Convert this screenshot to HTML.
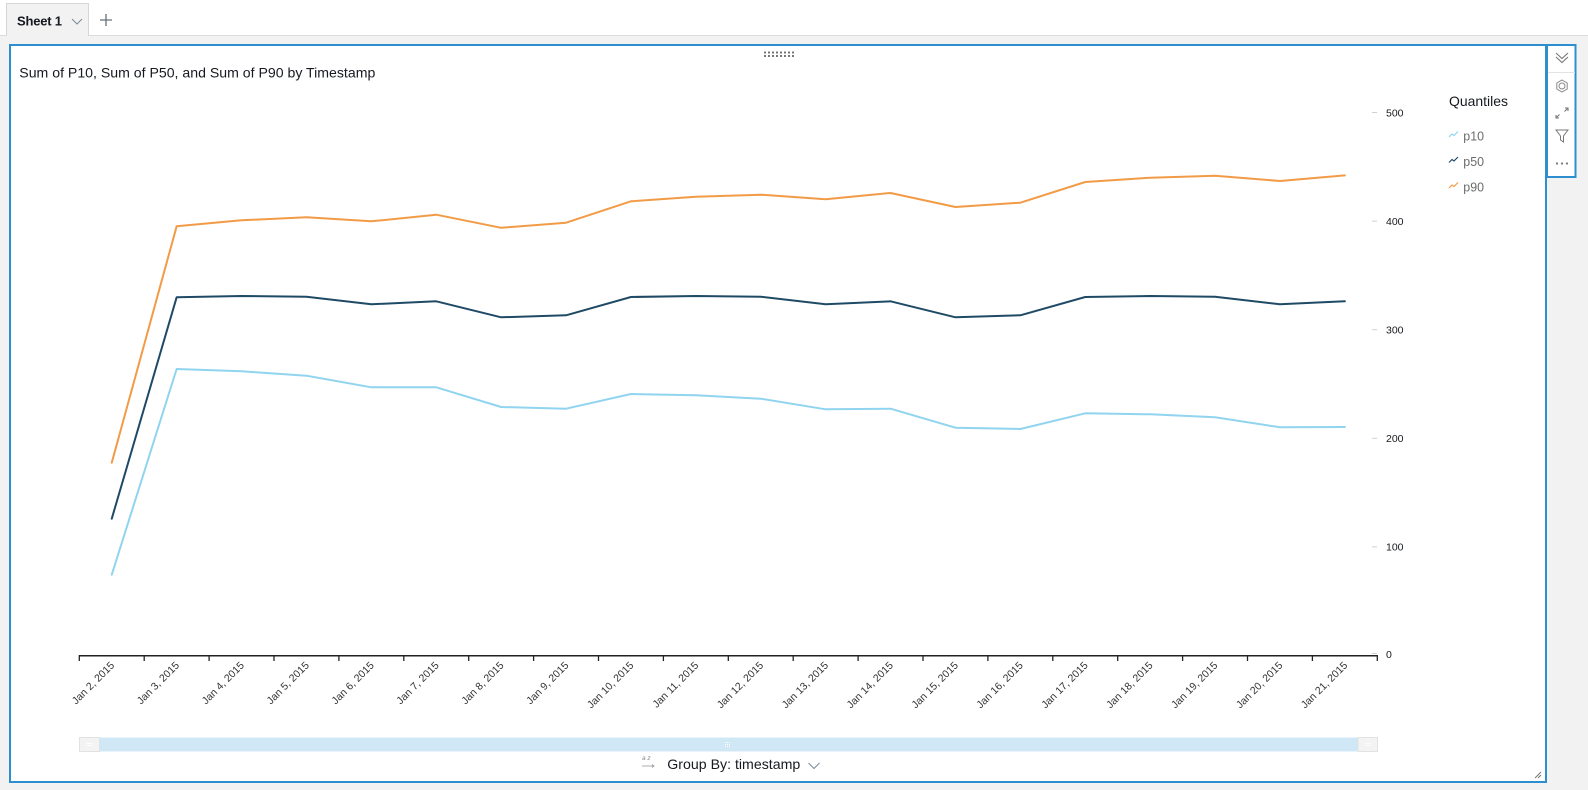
<!DOCTYPE html>
<html>
<head>
<meta charset="utf-8">
<style>
  html,body{margin:0;padding:0;width:1588px;height:790px;overflow:hidden;background:#f2f2f2;}
  svg{display:block;}
  text{font-family:"Liberation Sans",Arial,sans-serif;}
</style>
</head>
<body>
<svg width="1588" height="790" viewBox="0 0 1588 790" xmlns="http://www.w3.org/2000/svg">
  <!-- top tab bar -->
  <rect x="0" y="0" width="1588" height="35" fill="#ffffff"/>
  <rect x="0" y="35" width="1588" height="1" fill="#dcdcdc"/>
  <path d="M6.5,36 V3.5 H88.5 V36" fill="#f2f2f2" stroke="#d6d6d6" stroke-width="1"/>
  <text x="17" y="25.5" font-size="13" font-weight="bold" fill="#16191f" textLength="45">Sheet 1</text>
  <path d="M72,19 L77,24 L82,19" fill="none" stroke="#7d8998" stroke-width="1"/>
  <path d="M106,14 V26 M100,20 H112" fill="none" stroke="#687078" stroke-width="1.3"/>

  <!-- panel -->
  <rect x="10" y="45" width="1536" height="737" fill="#ffffff" stroke="#2e8fd0" stroke-width="2"/>
  <!-- toolbar -->
  <rect x="1547" y="45" width="28.5" height="132" fill="#ffffff" stroke="#2e8fd0" stroke-width="2"/>
  <line x1="1548" y1="72.5" x2="1575" y2="72.5" stroke="#e3e3e3" stroke-width="1"/>
  <path d="M1556,53 L1562,58.5 L1568,53 M1556,57 L1562,62.5 L1568,57" fill="none" stroke="#777" stroke-width="1.1"/>
  <circle cx="1562" cy="86" r="3" fill="none" stroke="#888" stroke-width="1"/>
  <path d="M1562,80 L1567.2,83 L1567.2,89 L1562,92 L1556.8,89 L1556.8,83 Z" fill="none" stroke="#888" stroke-width="1"/>
  <path d="M1565,108 L1568,108 L1568,111 M1568,108 L1564.5,111.5 M1559,118 L1556,118 L1556,115 M1556,118 L1559.5,114.5" fill="none" stroke="#777" stroke-width="1.1"/>
  <path d="M1556,130 L1568,130 L1563.5,136 L1563.5,142 L1560.5,140 L1560.5,136 Z" fill="none" stroke="#777" stroke-width="1"/>
  <circle cx="1557" cy="163.5" r="1.1" fill="#777"/>
  <circle cx="1562" cy="163.5" r="1.1" fill="#777"/>
  <circle cx="1567" cy="163.5" r="1.1" fill="#777"/>

  <!-- drag handle dots -->
  <g fill="#777">
    <rect x="764" y="51.5" width="2" height="2"/><rect x="768" y="51.5" width="2" height="2"/><rect x="772" y="51.5" width="2" height="2"/><rect x="776" y="51.5" width="2" height="2"/><rect x="780" y="51.5" width="2" height="2"/><rect x="784" y="51.5" width="2" height="2"/><rect x="788" y="51.5" width="2" height="2"/><rect x="792" y="51.5" width="2" height="2"/>
    <rect x="764" y="55" width="2" height="2"/><rect x="768" y="55" width="2" height="2"/><rect x="772" y="55" width="2" height="2"/><rect x="776" y="55" width="2" height="2"/><rect x="780" y="55" width="2" height="2"/><rect x="784" y="55" width="2" height="2"/><rect x="788" y="55" width="2" height="2"/><rect x="792" y="55" width="2" height="2"/>
  </g>

  <!-- title -->
  <text x="19.3" y="77.5" font-size="14" fill="#16191f" textLength="356" lengthAdjust="spacingAndGlyphs">Sum of P10, Sum of P50, and Sum of P90 by Timestamp</text>

  <!-- legend -->
  <text x="1449" y="106" font-size="14" fill="#16191f" textLength="59" lengthAdjust="spacingAndGlyphs">Quantiles</text>
  <path d="M1449,137 L1452,134 L1454,135.5 L1458,131.5" fill="none" stroke="#90d4ef" stroke-width="1.2"/>
  <path d="M1449,162.5 L1452,159.5 L1454,161 L1458,157" fill="none" stroke="#1f4a66" stroke-width="1.2"/>
  <path d="M1449,188 L1452,185 L1454,186.5 L1458,182.5" fill="none" stroke="#f29b46" stroke-width="1.2"/>
  <text x="1463.3" y="140.5" font-size="13" fill="#6b6b6b" textLength="20.7" lengthAdjust="spacingAndGlyphs">p10</text>
  <text x="1463.3" y="166" font-size="13" fill="#6b6b6b" textLength="20.7" lengthAdjust="spacingAndGlyphs">p50</text>
  <text x="1463.3" y="191.5" font-size="13" fill="#6b6b6b" textLength="20.7" lengthAdjust="spacingAndGlyphs">p90</text>

  <!-- y axis ticks/labels -->
  <g stroke="#d0d0d0" stroke-width="1">
    <line x1="1372" y1="112.5" x2="1377" y2="112.5"/>
    <line x1="1372" y1="221.1" x2="1377" y2="221.1"/>
    <line x1="1372" y1="329.7" x2="1377" y2="329.7"/>
    <line x1="1372" y1="438.3" x2="1377" y2="438.3"/>
    <line x1="1372" y1="546.9" x2="1377" y2="546.9"/>
    <line x1="1372" y1="653.5" x2="1377" y2="653.5"/>
  </g>
  <g font-size="10.5" fill="#16191f">
    <text x="1386" y="116.3">500</text>
    <text x="1386" y="224.9">400</text>
    <text x="1386" y="333.5">300</text>
    <text x="1386" y="442.1">200</text>
    <text x="1386" y="550.7">100</text>
    <text x="1386" y="658">0</text>
  </g>

  <!-- x axis -->
  <line x1="79.3" y1="655.7" x2="1377.3" y2="655.7" stroke="#222" stroke-width="1.5"/>
  <g stroke="#222" stroke-width="1.3">
    <line x1="79.3" y1="655" x2="79.3" y2="661"/>
    <line x1="144.2" y1="655" x2="144.2" y2="661"/>
    <line x1="209.1" y1="655" x2="209.1" y2="661"/>
    <line x1="274" y1="655" x2="274" y2="661"/>
    <line x1="338.9" y1="655" x2="338.9" y2="661"/>
    <line x1="403.8" y1="655" x2="403.8" y2="661"/>
    <line x1="468.7" y1="655" x2="468.7" y2="661"/>
    <line x1="533.6" y1="655" x2="533.6" y2="661"/>
    <line x1="598.5" y1="655" x2="598.5" y2="661"/>
    <line x1="663.4" y1="655" x2="663.4" y2="661"/>
    <line x1="728.3" y1="655" x2="728.3" y2="661"/>
    <line x1="793.2" y1="655" x2="793.2" y2="661"/>
    <line x1="858.1" y1="655" x2="858.1" y2="661"/>
    <line x1="923" y1="655" x2="923" y2="661"/>
    <line x1="987.9" y1="655" x2="987.9" y2="661"/>
    <line x1="1052.8" y1="655" x2="1052.8" y2="661"/>
    <line x1="1117.7" y1="655" x2="1117.7" y2="661"/>
    <line x1="1182.6" y1="655" x2="1182.6" y2="661"/>
    <line x1="1247.5" y1="655" x2="1247.5" y2="661"/>
    <line x1="1312.4" y1="655" x2="1312.4" y2="661"/>
    <line x1="1377.3" y1="655" x2="1377.3" y2="661"/>
  </g>
  <g font-size="10.5" fill="#333" text-anchor="end">
    <text transform="translate(115,666) rotate(-45)">Jan 2, 2015</text>
    <text transform="translate(179.9,666) rotate(-45)">Jan 3, 2015</text>
    <text transform="translate(244.8,666) rotate(-45)">Jan 4, 2015</text>
    <text transform="translate(309.7,666) rotate(-45)">Jan 5, 2015</text>
    <text transform="translate(374.6,666) rotate(-45)">Jan 6, 2015</text>
    <text transform="translate(439.5,666) rotate(-45)">Jan 7, 2015</text>
    <text transform="translate(504.4,666) rotate(-45)">Jan 8, 2015</text>
    <text transform="translate(569.3,666) rotate(-45)">Jan 9, 2015</text>
    <text transform="translate(634.2,666) rotate(-45)">Jan 10, 2015</text>
    <text transform="translate(699.1,666) rotate(-45)">Jan 11, 2015</text>
    <text transform="translate(764,666) rotate(-45)">Jan 12, 2015</text>
    <text transform="translate(828.9,666) rotate(-45)">Jan 13, 2015</text>
    <text transform="translate(893.8,666) rotate(-45)">Jan 14, 2015</text>
    <text transform="translate(958.7,666) rotate(-45)">Jan 15, 2015</text>
    <text transform="translate(1023.6,666) rotate(-45)">Jan 16, 2015</text>
    <text transform="translate(1088.5,666) rotate(-45)">Jan 17, 2015</text>
    <text transform="translate(1153.4,666) rotate(-45)">Jan 18, 2015</text>
    <text transform="translate(1218.3,666) rotate(-45)">Jan 19, 2015</text>
    <text transform="translate(1283.2,666) rotate(-45)">Jan 20, 2015</text>
    <text transform="translate(1348.1,666) rotate(-45)">Jan 21, 2015</text>
  </g>

  <!-- series -->
  <g fill="none" stroke-width="2" stroke-linejoin="round" stroke-linecap="round">
    <polyline stroke="#90d4ef" points="111.75,574.7 176.65,369 241.55,371.3 306.45,375.7 371.35,387.3 436.25,387.3 501.15,407 566.05,408.7 630.95,394 695.85,395.3 760.75,398.7 825.65,409.3 890.55,408.7 955.45,427.7 1020.35,429 1085.25,413.3 1150.15,414.3 1215.05,417.3 1279.95,427.3 1344.85,427"/>
    <polyline stroke="#1f4a66" points="111.75,518.7 176.65,297.3 241.55,296 306.45,296.7 371.35,304.3 436.25,301.3 501.15,317.3 566.05,315.3 630.95,297 695.85,296 760.75,296.7 825.65,304.3 890.55,301.3 955.45,317.3 1020.35,315.3 1085.25,297 1150.15,296 1215.05,296.7 1279.95,304.3 1344.85,301.3"/>
    <polyline stroke="#f29b46" points="111.75,462.7 176.65,226.3 241.55,220.3 306.45,217.3 371.35,221.3 436.25,214.7 501.15,227.8 566.05,222.7 630.95,201.3 695.85,196.7 760.75,194.7 825.65,199.3 890.55,193 955.45,207 1020.35,202.7 1085.25,182 1150.15,177.7 1215.05,175.7 1279.95,181 1344.85,175.4"/>
  </g>

  <!-- scrollbar -->
  <rect x="79.5" y="737.5" width="1298" height="14" fill="#d0e8f5"/>
  <rect x="79.5" y="737.5" width="20" height="14" fill="#f3f3f3" stroke="#e2e2e2" stroke-width="1"/>
  <rect x="1358" y="737.5" width="19.5" height="14" fill="#f3f3f3" stroke="#e2e2e2" stroke-width="1"/>
  <g stroke="#ffffff" stroke-width="0.8">
    <line x1="86.5" y1="743.5" x2="92.5" y2="743.5"/><line x1="86.5" y1="745.5" x2="92.5" y2="745.5"/>
    <line x1="1365" y1="743.5" x2="1371" y2="743.5"/><line x1="1365" y1="745.5" x2="1371" y2="745.5"/>
  </g>
  <g fill="#ffffff">
    <rect x="725" y="742" width="1" height="1"/><rect x="727" y="742" width="1" height="1"/><rect x="729" y="742" width="1" height="1"/>
    <rect x="725" y="744" width="1" height="1"/><rect x="727" y="744" width="1" height="1"/><rect x="729" y="744" width="1" height="1"/>
    <rect x="725" y="746" width="1" height="1"/><rect x="727" y="746" width="1" height="1"/><rect x="729" y="746" width="1" height="1"/>
  </g>

  <!-- group by -->
  <text x="642" y="760" font-size="6.5" fill="#888" font-style="italic">a z</text>
  <line x1="642" y1="766" x2="654" y2="766" stroke="#999" stroke-width="0.8"/>
  <path d="M652,764.5 L654,766 L652,767.5" fill="none" stroke="#999" stroke-width="0.8"/>
  <text x="667.3" y="769" font-size="14" fill="#16191f" textLength="133" lengthAdjust="spacingAndGlyphs">Group By: timestamp</text>
  <path d="M808.5,763 L814,768.5 L819.5,763" fill="none" stroke="#7d8998" stroke-width="1"/>

  <!-- resize grip -->
  <path d="M1535,778 L1541,772 M1538,778 L1541,775" stroke="#777" stroke-width="1"/>
</svg>
</body>
</html>
